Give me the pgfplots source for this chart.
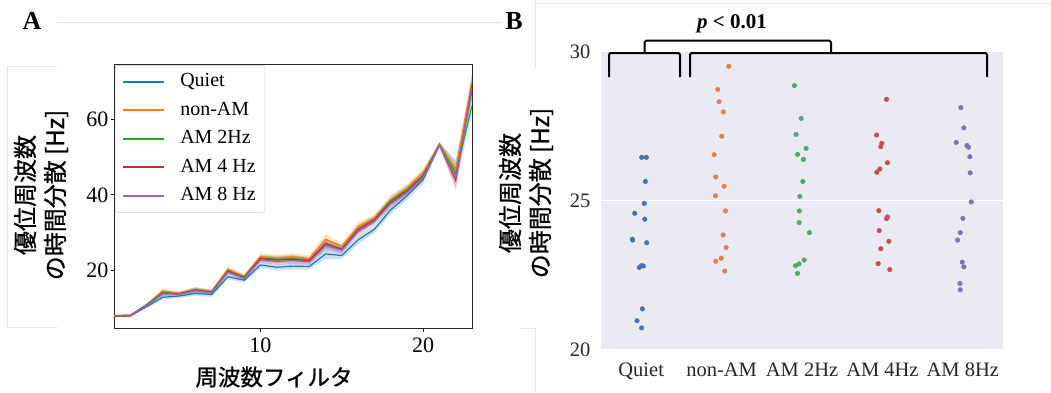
\documentclass[border=0pt]{standalone}
\usepackage{fontspec}
\setmainfont{Liberation Serif}
\newfontfamily\jp{Noto Sans CJK JP}[FakeBold=0.9]
\usepackage{pgfplots}
\usepackage{pgfplotstable}
\pgfplotsset{compat=1.18}
\usepgfplotslibrary{fillbetween}

\definecolor{tabblue}{HTML}{1F77B4}
\definecolor{taborange}{HTML}{FF7F0E}
\definecolor{tabgreen}{HTML}{2CA02C}
\definecolor{tabred}{HTML}{D62728}
\definecolor{tabpurple}{HTML}{9467BD}
\definecolor{deepblue}{HTML}{4C72B0}
\definecolor{deeporange}{HTML}{DD8452}
\definecolor{deepgreen}{HTML}{55A868}
\definecolor{deepred}{HTML}{C44E52}
\definecolor{deeppurple}{HTML}{8172B3}
\definecolor{bggray}{HTML}{EAEAF2}
\definecolor{labgray}{HTML}{262626}
\definecolor{faint}{HTML}{E6E6E6}

% panel A: filter index, means per condition, band half-width
\pgfplotstableread{
x  q     n     a2    a4    a8    e
1  8.0   8.1   8.1   8.0   8.1   0.3
2  8.1   8.2   8.2   8.1   8.2   0.3
3  10.5  10.9  11.0  10.8  10.8  0.4
4  13.0  14.7  14.3  14.0  13.9  0.6
5  13.3  14.0  13.9  13.9  13.8  0.5
6  14.0  15.1  15.0  14.8  14.7  0.6
7  13.7  14.5  14.4  14.3  14.2  0.6
8  18.4  20.4  20.0  19.8  19.6  0.7
9  17.5  18.4  18.3  18.2  18.0  0.6
10 21.5  23.7  23.3  23.2  22.8  0.8
11 20.9  23.3  23.0  22.8  22.4  0.9
12 21.2  23.7  23.2  23.0  22.7  0.9
13 21.1  23.2  22.8  22.6  22.3  0.8
14 24.4  28.3  27.0  27.2  26.6  1.3
15 24.0  26.5  25.8  25.6  25.4  0.9
16 28.1  31.6  31.0  30.8  30.3  1.1
17 30.9  33.8  33.5  33.4  33.0  1.0
18 36.0  38.6  38.5  38.0  37.6  1.1
19 39.7  41.7  41.3  41.0  40.6  1.1
20 44.1  45.8  45.2  45.0  44.6  1.2
21 53.1  53.3  53.2  53.2  53.1  0.6
22 46.5  46.5  45.5  43.8  44.5  2.5
23 67.5  69.8  63.5  69.0  68.5  2.5
}\dataA

\begin{document}
\begin{tikzpicture}[x=1bp,y=1bp]

% faint frame artefacts
\draw[faint, line width=0.8bp] (57,370) -- (502,370);
\draw[faint, line width=0.8bp] (57,326) -- (7,326) -- (7,65) -- (57,65);
\draw[faint, line width=0.8bp] (535,392) -- (535,389) -- (1051,389);
\draw[faint, line width=0.8bp] (535,392) -- (535,324);
\draw[faint, line width=0.8bp] (520,64) -- (535,64) -- (535,0);

% ---------------- Panel A ----------------
\begin{axis}[
  at={(114bp,63.3bp)}, anchor=south west, scale only axis,
  width=358bp, height=264bp,
  xmin=1, xmax=23, ymin=4.7, ymax=74.3,
  xtick={10,20}, ytick={20,40,60},
  tick align=outside, xtick pos=lower, ytick pos=left,
  major tick length=3.5bp,
  tick style={black, line width=0.8bp},
  axis line style={line width=0.8bp, black!85},
  ticklabel style={font=\fontsize{22bp}{24bp}\selectfont},
  xticklabel style={yshift=-2bp},
  yticklabel style={xshift=1.5bp},
  /pgf/number format/assume math mode=true,
  legend cell align=left,
  legend entries={Quiet, non-AM, AM 2Hz, AM 4 Hz, AM 8 Hz},
  legend image code/.code={\draw[#1] (0bp,0bp) -- (41bp,0bp);},
  legend style={at={(0.003,0.998)}, anchor=north west,
    draw=black!18, rounded corners=2bp, fill=white, fill opacity=0.8, text opacity=1, draw opacity=1,
    font=\fontsize{20bp}{22bp}\selectfont,
    inner xsep=7bp, inner ysep=5.5bp, row sep=6.5bp, column sep=13bp,
    nodes={text height=14bp, text depth=4bp, inner sep=2bp}},
]
\addlegendimage{color=tabblue, line width=2bp}
\addlegendimage{color=taborange, line width=2bp}
\addlegendimage{color=tabgreen, line width=2bp}
\addlegendimage{color=tabred, line width=2bp}
\addlegendimage{color=tabpurple, line width=2bp}
% Quiet
\addplot[draw=none, name path=qh, forget plot] table[x=x, y expr=\thisrow{q}+\thisrow{e}] {\dataA};
\addplot[draw=none, name path=ql, forget plot] table[x=x, y expr=\thisrow{q}-\thisrow{e}] {\dataA};
\addplot[fill=tabblue, fill opacity=0.22, draw=none, forget plot] fill between[of=qh and ql];
\addplot[color=tabblue, line width=1.2bp, forget plot] table[x=x, y=q] {\dataA};
% non-AM
\addplot[draw=none, name path=nh, forget plot] table[x=x, y expr=\thisrow{n}+\thisrow{e}] {\dataA};
\addplot[draw=none, name path=nl, forget plot] table[x=x, y expr=\thisrow{n}-\thisrow{e}] {\dataA};
\addplot[fill=taborange, fill opacity=0.22, draw=none, forget plot] fill between[of=nh and nl];
\addplot[color=taborange, line width=1.2bp, forget plot] table[x=x, y=n] {\dataA};
% AM 2Hz
\addplot[draw=none, name path=ah, forget plot] table[x=x, y expr=\thisrow{a2}+\thisrow{e}] {\dataA};
\addplot[draw=none, name path=al, forget plot] table[x=x, y expr=\thisrow{a2}-\thisrow{e}] {\dataA};
\addplot[fill=tabgreen, fill opacity=0.22, draw=none, forget plot] fill between[of=ah and al];
\addplot[color=tabgreen, line width=1.2bp, forget plot] table[x=x, y=a2] {\dataA};
% AM 4 Hz
\addplot[draw=none, name path=bh, forget plot] table[x=x, y expr=\thisrow{a4}+\thisrow{e}] {\dataA};
\addplot[draw=none, name path=bl, forget plot] table[x=x, y expr=\thisrow{a4}-\thisrow{e}] {\dataA};
\addplot[fill=tabred, fill opacity=0.22, draw=none, forget plot] fill between[of=bh and bl];
\addplot[color=tabred, line width=1.2bp, forget plot] table[x=x, y=a4] {\dataA};
% AM 8 Hz
\addplot[draw=none, name path=ch, forget plot] table[x=x, y expr=\thisrow{a8}+\thisrow{e}] {\dataA};
\addplot[draw=none, name path=cl, forget plot] table[x=x, y expr=\thisrow{a8}-\thisrow{e}] {\dataA};
\addplot[fill=tabpurple, fill opacity=0.22, draw=none, forget plot] fill between[of=ch and cl];
\addplot[color=tabpurple, line width=1.2bp, forget plot] table[x=x, y=a8] {\dataA};
\end{axis}

% ---------------- Panel B ----------------
\begin{axis}[
  at={(601bp,42.7bp)}, anchor=south west, scale only axis,
  width=402bp, height=297.6bp,
  xmin=-0.5, xmax=4.5, ymin=20, ymax=30,
  xtick={0,1,2,3,4},
  xticklabels={Quiet,non-AM,AM 2Hz,AM 4Hz,AM 8Hz},
  ytick={20,25,30},
  axis background/.style={fill=bggray},
  axis line style={draw=none},
  major tick length=0pt,
  ymajorgrids, grid style={white, line width=1bp},
  ticklabel style={font=\fontsize{20.5bp}{22bp}\selectfont, text=labgray},
  xticklabel style={yshift=-10bp},
  yticklabel style={xshift=-7bp},
  /pgf/number format/assume math mode=true,
  clip=false,
]
\addplot[color=deepblue, only marks, mark=*, mark size=2.3bp, mark options={draw=deepblue, fill=deepblue}] coordinates {
(0.006,26.45) (0.064,26.45) (0.052,25.64) (0.039,24.90) (-0.081,24.57)
(0.044,24.37) (-0.106,23.67) (-0.110,23.70) (0.068,23.58) (-0.023,22.75)
(0.002,22.81) (0.027,22.80) (0.015,21.36) (-0.052,20.96) (0.006,20.72)};
\addplot[color=deeporange, only marks, mark=*, mark size=2.3bp, mark options={draw=deeporange, fill=deeporange}] coordinates {
(1.089,29.51) (0.952,28.73) (0.969,28.32) (1.023,27.98) (1.002,27.16)
(0.907,26.54) (0.927,25.79) (1.031,25.48) (0.923,25.16) (1.048,24.65)
(1.019,23.84) (1.056,23.42) (0.994,23.06) (0.927,22.96) (1.039,22.63)};
\addplot[color=deepgreen, only marks, mark=*, mark size=2.3bp, mark options={draw=deepgreen, fill=deepgreen}] coordinates {
(1.906,28.86) (1.989,27.76) (1.927,27.22) (2.051,26.75) (1.944,26.55)
(2.018,26.38) (2.010,25.64) (1.973,25.14) (1.968,24.65) (1.964,24.26)
(2.093,23.92) (2.027,23.00) (1.964,22.87) (1.919,22.81) (1.944,22.55)};
\addplot[color=deepred, only marks, mark=*, mark size=2.3bp, mark options={draw=deepred, fill=deepred}] coordinates {
(3.051,28.40) (2.927,27.20) (2.993,26.92) (2.980,26.81) (3.063,26.27)
(2.968,26.06) (2.931,25.95) (2.956,24.66) (3.063,24.45) (3.051,24.39)
(2.960,23.99) (3.080,23.63) (2.980,23.38) (2.947,22.88) (3.092,22.68)};
\addplot[color=deeppurple, only marks, mark=*, mark size=2.3bp, mark options={draw=deeppurple, fill=deeppurple}] coordinates {
(3.976,28.12) (4.013,27.44) (3.918,26.95) (4.051,26.85) (4.071,26.79)
(4.088,26.47) (4.092,25.93) (4.105,24.95) (4.001,24.40) (3.968,23.92)
(3.935,23.67) (3.993,22.93) (4.013,22.77) (3.964,22.21) (3.968,22.00)};
\end{axis}

% brackets and significance
\draw[line width=2bp, rounded corners=2bp] (609,315) -- (609,339) -- (680,339) -- (680,315);
\draw[line width=2bp, rounded corners=2bp] (690,315) -- (690,339) -- (987,339) -- (987,315);
\draw[line width=2bp, rounded corners=1.5bp] (644.5,339) -- (644.5,351.3) -- (831,351.3) -- (831,339);
\node[font=\fontsize{21bp}{23bp}\selectfont\bfseries] at (732,368) {\textit{p} < 0.01};

% panel letters
\node[font=\fontsize{26bp}{28bp}\selectfont\bfseries] at (32,371) {A};
\node[font=\fontsize{26bp}{28bp}\selectfont\bfseries] at (514,371) {B};

% axis labels
\node[rotate=90, align=center, font=\jp\fontsize{24bp}{30bp}\selectfont] at (41,197) {優位周波数\\の時間分散 [Hz]};
\node[rotate=90, align=center, font=\jp\fontsize{24bp}{30bp}\selectfont] at (526,199) {優位周波数\\の時間分散 [Hz]};
\node[font=\jp\fontsize{22.5bp}{24bp}\selectfont] at (274,15) {周波数フィルタ};

\pgfresetboundingbox
\useasboundingbox (0,0) rectangle (1051,392);
\end{tikzpicture}
\end{document}
